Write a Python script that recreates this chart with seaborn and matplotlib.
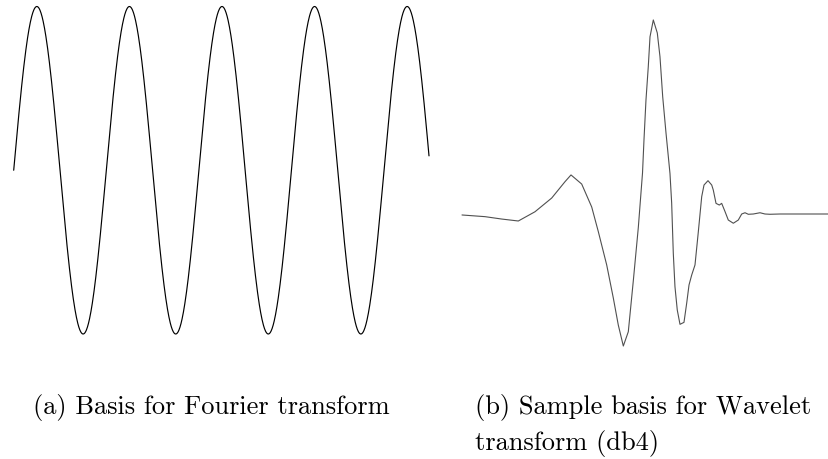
import numpy as np
import pandas as pd
import matplotlib
matplotlib.use("Agg")
import matplotlib.pyplot as plt
import seaborn as sns

# Fourier basis: a plain sine, drawn over this many cycles
fourier_cycles = 4.486
fourier_amplitude = 1.0

# Sample db4 wavelet, traced as (time, amplitude) pairs
wavelet_t = [0.000, 0.439, 0.757, 1.074, 1.392, 1.711, 1.965, 2.079, 2.283, 2.474,
             2.600, 2.760, 2.886, 2.981, 3.077, 3.172, 3.267, 3.363, 3.443, 3.471,
             3.509, 3.553, 3.586, 3.649, 3.725, 3.776, 3.828, 3.891, 3.967, 3.999,
             4.030, 4.062, 4.106, 4.158, 4.234, 4.286, 4.330, 4.381, 4.444, 4.507,
             4.572, 4.616, 4.692, 4.763, 4.793, 4.845, 4.908, 4.953, 5.016, 5.079,
             5.175, 5.270, 5.335, 5.398, 5.461, 5.556, 5.684, 5.779, 5.874, 6.065,
             7.000]
wavelet_psi = [-0.007, -0.019, -0.036, -0.050, 0.016, 0.114, 0.231, 0.279, 0.214, 0.050,
               -0.126, -0.364, -0.600, -0.793, -0.943, -0.841, -0.479, -0.096, 0.293, 0.529,
               0.814, 1.052, 1.266, 1.386, 1.293, 1.124, 0.838, 0.579, 0.289, 0.079,
               -0.279, -0.519, -0.686, -0.788, -0.774, -0.636, -0.507, -0.436, -0.364, -0.129,
               0.124, 0.207, 0.238, 0.207, 0.171, 0.076, 0.064, 0.076, 0.018, -0.043,
               -0.066, -0.043, 0.000, 0.009, -0.002, 0.000, 0.009, 0.000, -0.002, 0.000,
               0.000]

caption_a = ["(a) Basis for Fourier transform"]
caption_b = ["(b) Sample basis for Wavelet", "transform (db4)"]

sns.set_theme(style="white")

W, H = 829, 459
fig = plt.figure(figsize=(W / 100, H / 100), dpi=100)
fig.patch.set_facecolor("white")


def axes_px(left, top, right, bottom):
    return fig.add_axes([left / W, 1 - bottom / H, (right - left) / W, (bottom - top) / H])


# Left panel: sine wave
ax1 = axes_px(13.7, 6.5, 429, 334)
t_sine = np.linspace(0, fourier_cycles, 1200)
sine_df = pd.DataFrame({"t": t_sine,
                        "y": fourier_amplitude * np.sin(2 * np.pi * t_sine)})
sns.lineplot(data=sine_df, x="t", y="y", ax=ax1, color="black", linewidth=0.85,
             estimator=None, sort=False)
ax1.set_xlim(0, fourier_cycles)
ax1.set_ylim(-fourier_amplitude, fourier_amplitude)
ax1.axis("off")
for ln in ax1.lines:
    ln.set_clip_on(False)

# Right panel: db4 wavelet
ax2 = axes_px(462, 18, 829, 354)
wave_df = pd.DataFrame({"t": wavelet_t, "psi": wavelet_psi})
sns.lineplot(data=wave_df, x="t", y="psi", ax=ax2, color="#505050", linewidth=0.8,
             estimator=None, sort=False)
ax2.set_xlim(0, 7)
ax2.set_ylim(-1.0, 1.4)
ax2.axis("off")
for ln in ax2.lines:
    ln.set_clip_on(False)

# Sub-figure captions, one text per line
line_step = 36
for x0, lines in ((33, caption_a), (475, caption_b)):
    for i, line in enumerate(lines):
        fig.text(x0 / W, 1 - (414 + i * line_step) / H, line, family="cmr10",
                 fontsize=19, ha="left", va="baseline", color="black")

fig.savefig("out.png", dpi=100, facecolor="white")
